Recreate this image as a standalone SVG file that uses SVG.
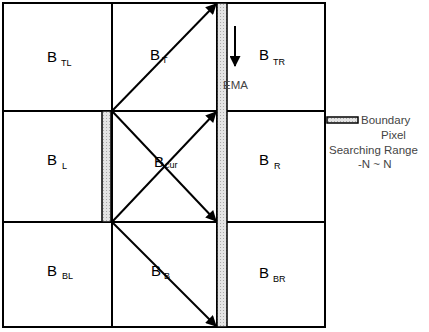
<svg xmlns="http://www.w3.org/2000/svg" width="429" height="332" viewBox="0 0 429 332">
<defs>
<pattern id="dots" width="3" height="3" patternUnits="userSpaceOnUse">
<rect width="3" height="3" fill="#e4e4e4"/>
<rect x="1" y="1" width="1" height="1" fill="#a8a8a8"/>
</pattern>
<marker id="ah" viewBox="0 0 10 10" refX="9" refY="5" markerWidth="6" markerHeight="5.5" orient="auto" markerUnits="strokeWidth">
<path d="M0,0 L10,5 L0,10 z" fill="#000"/>
</marker>
</defs>
<style>
.cell{fill:#fff;stroke:#000;stroke-width:2}
.bar{fill:url(#dots);stroke:#000;stroke-width:1.5}
.b{font-family:"Liberation Sans",Arial,sans-serif;font-size:15px;fill:#000}
.s{font-size:9px}
.lg{font-family:"Liberation Sans",Arial,sans-serif;font-size:11.5px;fill:#444}
.ar{stroke:#000;stroke-width:2;fill:none;marker-end:url(#ah)}
</style>
<rect width="429" height="332" fill="#fff"/>
<g id="B_TL"><rect class="cell" x="3" y="3" width="109" height="108"/><text class="b" x="47" y="62">B<tspan class="s" dx="4" dy="4">TL</tspan></text></g>
<g id="B_T"><rect class="cell" x="112" y="3" width="105" height="108"/><text class="b" x="150" y="60">B<tspan class="s" dx="2" dy="3">T</tspan></text></g>
<g id="B_TR"><rect class="cell" x="217" y="3" width="108" height="108"/><text class="b" x="259" y="60">B<tspan class="s" dx="4" dy="5">TR</tspan></text></g>
<g id="B_L"><rect class="cell" x="3" y="111" width="109" height="111"/><text class="b" x="47" y="165">B<tspan class="s" dx="5" dy="4">L</tspan></text></g>
<g id="B_Cur"><rect class="cell" x="112" y="111" width="105" height="111"/><text class="b" x="154" y="167">B<tspan class="s" dx="1" dy="1">cur</tspan></text></g>
<g id="B_R"><rect class="cell" x="217" y="111" width="108" height="111"/><text class="b" x="259" y="165">B<tspan class="s" dx="5" dy="4">R</tspan></text></g>
<g id="B_BL"><rect class="cell" x="3" y="222" width="109" height="105"/><text class="b" x="47" y="276">B<tspan class="s" dx="5" dy="3">BL</tspan></text></g>
<g id="B_B"><rect class="cell" x="112" y="222" width="105" height="105"/><text class="b" x="151" y="276">B<tspan class="s" dx="3" dy="3">B</tspan></text></g>
<g id="B_BR"><rect class="cell" x="217" y="222" width="108" height="105"/><text class="b" x="259" y="278">B<tspan class="s" dx="4" dy="4">BR</tspan></text></g>
<g id="boundary">
<rect class="bar" x="217" y="3" width="10" height="324"/>
<rect class="bar" x="102" y="111" width="9" height="111"/>
</g>
<g id="EMA">
<line class="ar" x1="235" y1="26" x2="235" y2="66"/>
<text class="lg" x="223" y="89" font-size="9.5" fill="#222">EMA</text>
</g>
<g id="legend">
<rect class="bar" x="327" y="117" width="31" height="6"/>
<text class="lg" x="361" y="124">Boundary</text>
<text class="lg" x="381" y="139">Pixel</text>
<text class="lg" x="329" y="154">Searching Range</text>
<text class="lg" x="358" y="168">-N ~ N</text>
</g>
<g id="connectors">
<line class="ar" x1="112" y1="111" x2="216" y2="4"/>
<line class="ar" x1="112" y1="111" x2="216" y2="221"/>
<line class="ar" x1="112" y1="222" x2="216" y2="112"/>
<line class="ar" x1="112" y1="222" x2="216" y2="326"/>
</g>
</svg>
